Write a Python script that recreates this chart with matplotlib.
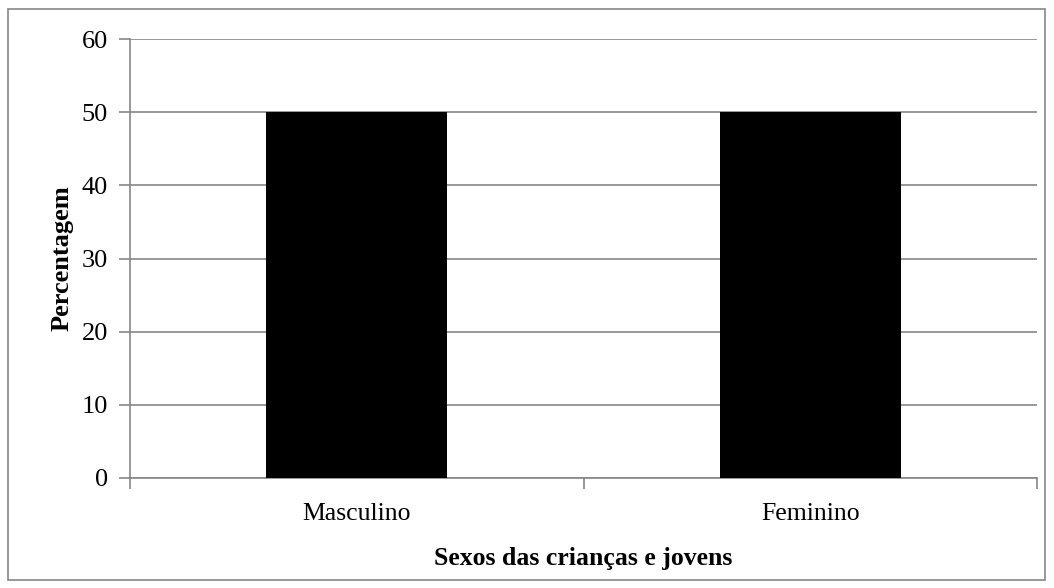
import matplotlib.pyplot as plt
from matplotlib.patches import Rectangle

categorias = ["Masculino", "Feminino"]
percentagens = [50, 50]
yticks = [0, 10, 20, 30, 40, 50, 60]

plt.rcParams['font.family'] = ['Liberation Serif', 'DejaVu Serif']

fig = plt.figure(figsize=(10.54, 5.88), dpi=100)
ax = fig.add_axes([130/1054, 1-478/588, (1037-130)/1054, (478-39)/588])

x = list(range(len(categorias)))
ax.bar(x, percentagens, width=0.4, color='black', zorder=3)
ax.set_xlim(-0.5, len(categorias)-0.5)
ax.set_ylim(0, 60)
ax.set_yticks(yticks)
ax.yaxis.grid(True, color='#868686', linewidth=1.2, zorder=0)

ax.set_xticks(x)
ax.set_xticklabels(categorias, fontsize=18.5)
ax.tick_params(axis='x', length=0, pad=18)
# category boundary ticks
ax.set_xticks([-0.5, 0.5, 1.5], minor=True)
ax.tick_params(axis='x', which='minor', length=8, color='#868686', width=1.2, direction='out')
ax.tick_params(axis='y', length=8, color='#868686', width=1.2, labelsize=19, pad=8)

for s in ['top', 'right']:
    ax.spines[s].set_visible(False)
for s in ['left', 'bottom']:
    ax.spines[s].set_color('#868686')
    ax.spines[s].set_linewidth(1.2)

ax.set_xlabel("Sexos das crianças e jovens", fontsize=18.5, fontweight='bold', labelpad=16)
ax.set_ylabel("Percentagem", fontsize=19, fontweight='bold', labelpad=6)

fig.patches.append(Rectangle((8/1054, 1-580/588), (1045-8)/1054, (580-9)/588,
                             transform=fig.transFigure, fill=False,
                             edgecolor='#868686', linewidth=1.2))

fig.savefig('out.png', dpi=100)
